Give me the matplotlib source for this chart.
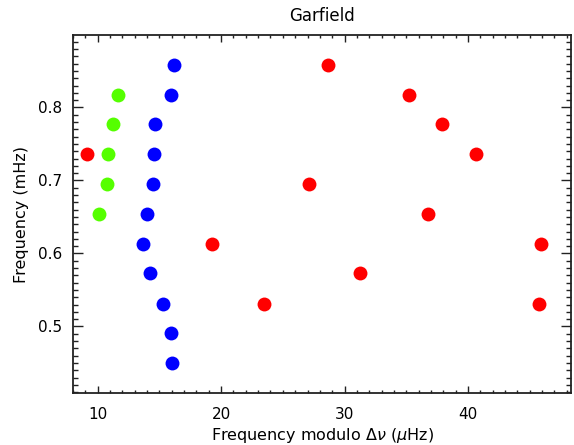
import matplotlib
matplotlib.use("Agg")
import matplotlib.pyplot as plt
from matplotlib.ticker import MultipleLocator

# Echelle-style data: frequency modulo large separation (muHz) vs frequency (mHz)
red_x = [9.11, 28.65, 35.2, 37.88, 40.63, 27.11, 36.76, 19.27, 45.87, 31.25, 23.46, 45.77]
red_y = [0.7363, 0.8582, 0.8175, 0.777, 0.7363, 0.6952, 0.6545, 0.6134, 0.6134, 0.5729, 0.5312, 0.5312]

green_x = [11.62, 11.22, 10.87, 10.73, 10.12]
green_y = [0.8175, 0.777, 0.7363, 0.6952, 0.6545]

blue_x = [16.16, 15.98, 14.68, 14.57, 14.48, 14.01, 13.65, 14.27, 15.30, 15.98, 16.03]
blue_y = [0.8582, 0.8175, 0.777, 0.7363, 0.6952, 0.6545, 0.6134, 0.5729, 0.5312, 0.4907, 0.4496]

fig = plt.figure(figsize=(5.74, 4.45), dpi=100)
ax = fig.add_axes([0.127, 0.117, 0.868, 0.804])

ax.plot(red_x, red_y, 'o', color='#ff0000', markersize=10, markeredgewidth=0)
ax.plot(green_x, green_y, 'o', color='#55ff00', markersize=10, markeredgewidth=0)
ax.plot(blue_x, blue_y, 'o', color='#0000ff', markersize=10, markeredgewidth=0)

ax.set_xlim(8.0, 48.35)
ax.set_ylim(0.409, 0.899)

ax.xaxis.set_major_locator(MultipleLocator(10))
ax.xaxis.set_minor_locator(MultipleLocator(1))
ax.yaxis.set_major_locator(MultipleLocator(0.1))
ax.yaxis.set_minor_locator(MultipleLocator(0.01))

ax.tick_params(which='both', direction='in', top=True, right=True, width=1, color='#222222')
ax.tick_params(axis='x', which='major', length=5, pad=10, labelsize=11)
ax.tick_params(axis='x', which='minor', length=2.5)
ax.tick_params(axis='y', which='major', length=7, pad=8, labelsize=11)
ax.tick_params(axis='y', which='minor', length=3.5)

for s in ax.spines.values():
    s.set_linewidth(1.3)
    s.set_color('#222222')

ax.set_title("Garfield", fontsize=12, pad=10)
ax.set_xlabel(r"Frequency modulo $\Delta\nu$ ($\mu$Hz)", fontsize=11.5, labelpad=3)
ax.set_ylabel("Frequency (mHz)", fontsize=11.5, labelpad=6)

fig.savefig("out.png", dpi=100)
